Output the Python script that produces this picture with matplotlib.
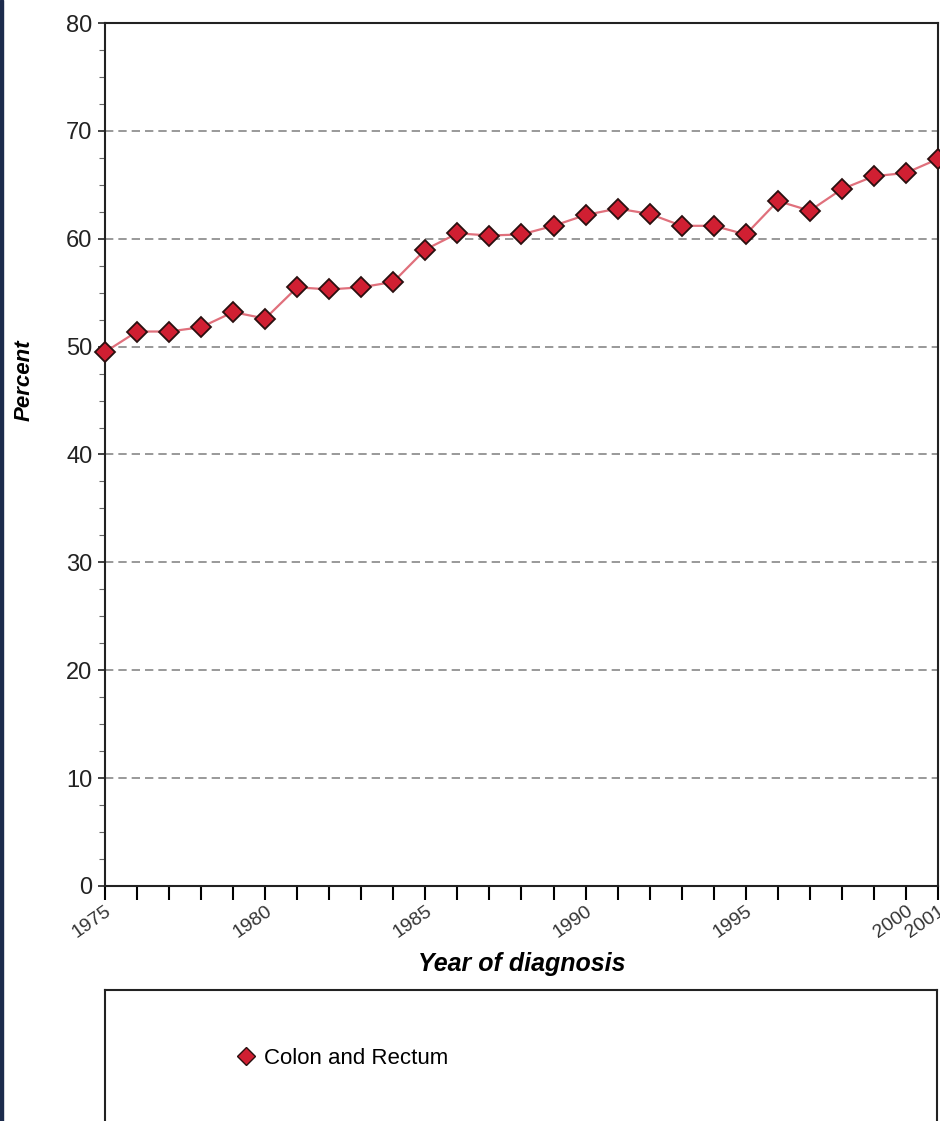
import matplotlib
matplotlib.use("Agg")
import matplotlib.pyplot as plt
from matplotlib.patches import Rectangle
from matplotlib.lines import Line2D

plt.rcParams['font.family'] = ['Liberation Sans', 'DejaVu Sans']

# 5-year relative survival, colon and rectum
years = [1975, 1976, 1977, 1978, 1979, 1980, 1981, 1982, 1983, 1984,
         1985, 1986, 1987, 1988, 1989, 1990, 1991, 1992, 1993, 1994,
         1995, 1996, 1997, 1998, 1999, 2000, 2001]
percent = [49.5, 51.4, 51.4, 51.8, 53.2, 52.6, 55.5, 55.3, 55.5, 56.0,
           59.0, 60.5, 60.3, 60.4, 61.2, 62.2, 62.8, 62.3, 61.2, 61.2,
           60.4, 63.5, 62.6, 64.6, 65.8, 66.1, 67.4]
xtick_years = [1975, 1980, 1985, 1990, 1995, 2000, 2001]
yticks = [0, 10, 20, 30, 40, 50, 60, 70, 80]
series_name = "Colon and Rectum"

W, H = 940, 1121
fig = plt.figure(figsize=(W / 100, H / 100), dpi=100)

ax = fig.add_axes([105 / W, 1 - 886 / H, 833 / W, (886 - 23) / H])
ax.plot(years, percent, color='#e0707c', lw=1.6, zorder=3, clip_on=False,
        marker='D', markersize=10, markerfacecolor='#d01f32',
        markeredgecolor='#2a1010', markeredgewidth=1.3)

ax.set_xlim(1975, 2001)
ax.set_ylim(0, 80)
ax.set_yticks(yticks)
ax.set_yticks([v + 2.5 * k for v in yticks[:-1] for k in (1, 2, 3)], minor=True)
ax.set_xticks(xtick_years)
ax.set_xticklabels([str(y) for y in xtick_years], rotation=35, ha='right',
                   rotation_mode='anchor', fontsize=14, color='#333333')
ax.set_xticks(years, minor=True)
ax.tick_params(axis='x', which='both', direction='out', length=10, width=1.5)
ax.tick_params(axis='x', which='major', pad=2)
ax.tick_params(axis='y', which='major', direction='out', length=5, width=1.2,
               labelsize=17, colors='#222222', pad=4)
ax.tick_params(axis='y', which='minor', direction='out', length=4, width=0.8,
               color='#666666')

for v in yticks[1:-1]:
    ax.axhline(v, color='#888888', lw=1.2, ls=(0, (5, 3)), zorder=1)

for s in ax.spines.values():
    s.set_linewidth(1.5)
    s.set_color('#222222')

ax.set_ylabel('Percent', fontsize=16, fontweight='bold', style='italic')
ax.yaxis.set_label_coords(-70 / 833, 0.586)
ax.set_xlabel('Year of diagnosis', fontsize=18, fontweight='bold',
              style='italic')
ax.xaxis.set_label_coords(0.5, -66 / 863)

# legend box
lax = fig.add_axes([105 / W, -0.01, 832 / W, (1121 - 990) / H + 0.01])
lax.set_xticks([])
lax.set_yticks([])
lax.spines['bottom'].set_visible(False)
for s in ['top', 'left', 'right']:
    lax.spines[s].set_linewidth(1.5)
    lax.spines[s].set_color('#222222')
handle = Line2D([], [], ls='none', marker='D', markersize=9,
                markerfacecolor='#d01f32', markeredgecolor='#2a1010')
lax.legend([handle], [series_name], loc='center left',
           bbox_to_anchor=(0.14, 0.52), frameon=False, fontsize=16,
           handletextpad=0.2, handlelength=1.2, borderpad=0)

# dark left border of the slide
fig.patches.append(Rectangle((0, 0), 3 / W, 1, transform=fig.transFigure,
                             color='#1c2b4c', zorder=10))

fig.savefig('out.png', dpi=100)
